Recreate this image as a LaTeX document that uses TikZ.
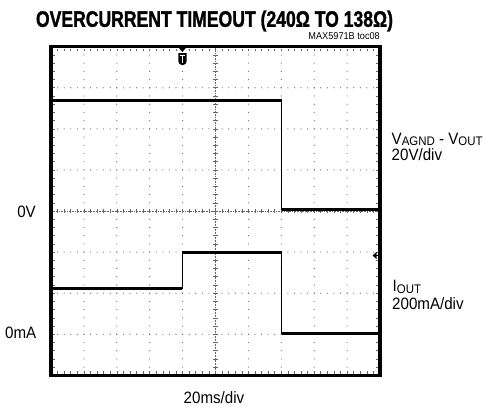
\documentclass[tikz,border=0pt]{standalone}
\usepackage{fontspec}
\setmainfont{Liberation Sans}
\newfontfamily\titlefont{Liberation Sans Bold}[FakeBold=1.6]
\usepackage{graphicx}
\newcommand{\cnd}[1]{\scalebox{0.92}[1]{#1}}
\newcommand{\lowtxt}[1]{\raisebox{-1.5bp}{\fontsize{12.5}{12.5}\selectfont #1}}

\begin{document}
\begin{tikzpicture}[x=1bp,y=-1bp,
    lbl/.style={inner sep=0pt,font=\fontsize{16.5}{19}\selectfont},
    trace/.style={line width=2.7bp},
    edge/.style={line width=1bp},
    dot/.style={fill=black!60},
    tick/.style={black!60,line width=0.6bp}]
    \useasboundingbox (0,0) rectangle (484,410);

    % dotted grid
    \foreach \k in {1,2,3,5,6,7}
        \foreach \j in {1,...,49}
            \fill[dot] (51+\j*6.58,46.7+\k*41.08) circle (0.6);
    \foreach \i in {1,2,3,4,6,7,8,9}
        \foreach \j in {1,...,39}
            \fill[dot] (51+\i*32.9,46.7+\j*8.216) circle (0.6);

    % centre axes with ticks
    \draw[tick,densely dotted] (51,211) -- (380,211);
    \draw[tick,densely dotted] (215.5,46.7) -- (215.5,375.3);
    \foreach \j in {1,...,49} {
        \draw[tick] (51+\j*6.58,208.6) -- ++(0,4.8);
        \draw[tick] (51+\j*6.58,48.5) -- ++(0,2.5);
        \draw[tick] (51+\j*6.58,373.5) -- ++(0,-2.5);
    }
    \foreach \j in {1,...,39} {
        \draw[tick] (213.1,46.7+\j*8.216) -- ++(4.8,0);
        \draw[tick] (52.8,46.7+\j*8.216) -- ++(2.5,0);
        \draw[tick] (378.2,46.7+\j*8.216) -- ++(-2.5,0);
    }

    % frame
    \draw[line width=3.3bp] (51,46.7) rectangle (380,375.3);

    % V trace
    \draw[edge] (281.7,100.5) -- (281.7,209.5);
    \draw[trace] (52.5,100.5) -- (281.7,100.5);
    \draw[trace] (281.7,209.5) -- (378.5,209.5);

    % I trace
    \draw[edge] (182,288.5) -- (182,252.5);
    \draw[edge] (281.7,252.5) -- (281.7,333.5);
    \draw[trace] (52.5,288.5) -- (182,288.5);
    \draw[trace] (182,252.5) -- (281.7,252.5);
    \draw[trace] (281.7,333.5) -- (378.5,333.5);

    % trigger marker
    \fill (178.6,47.5) -- (186.2,47.5) -- (182.4,52) -- cycle;
    \fill (178.4,53.2) -- (186.6,53.2) [rounded corners=3.6bp] -- (186.6,65) -- (178.4,65) [sharp corners] -- cycle;
    \draw[white,line width=1.3bp] (180,55.8) -- (184.8,55.8) (182.4,55.8) -- (182.4,62.8);

    % level marker
    \fill (372.6,255.5) -- (376.6,251.8) -- (376.6,259.2) -- cycle;
    \draw[line width=0.9bp] (376,255.5) -- (378.5,255.5);

    % labels
    \node[anchor=base,inner sep=0pt] (title) at (214.5,26.8)
        {\resizebox{357bp}{\height}{\fontsize{22.5}{24}\titlefont OVERCURRENT TIMEOUT (240Ω TO 138Ω)}};
    \node[anchor=base east,inner sep=0pt,font=\fontsize{10}{12}\selectfont] (toc) at (380,39.5) {\cnd{MAX5971B toc08}};
    \node[lbl,anchor=base east] (zerov) at (36,217.5) {\cnd{0V}};
    \node[lbl,anchor=base east] (zeroma) at (36.5,338.3) {\cnd{0mA}};
    \node[lbl,anchor=base west] (vname) at (391.5,144) {\cnd{V\lowtxt{AGND} - V\lowtxt{OUT}}};
    \node[lbl,anchor=base west] (vscale) at (391.5,160) {\cnd{20V/div}};
    \node[lbl,anchor=base west] (iname) at (392.5,291.7) {\cnd{I\lowtxt{OUT}}};
    \node[lbl,anchor=base west] (iscale) at (392,309) {\cnd{200mA/div}};
    \node[lbl,anchor=base] (tscale) at (214,403) {\cnd{20ms/div}};
\end{tikzpicture}
\end{document}
